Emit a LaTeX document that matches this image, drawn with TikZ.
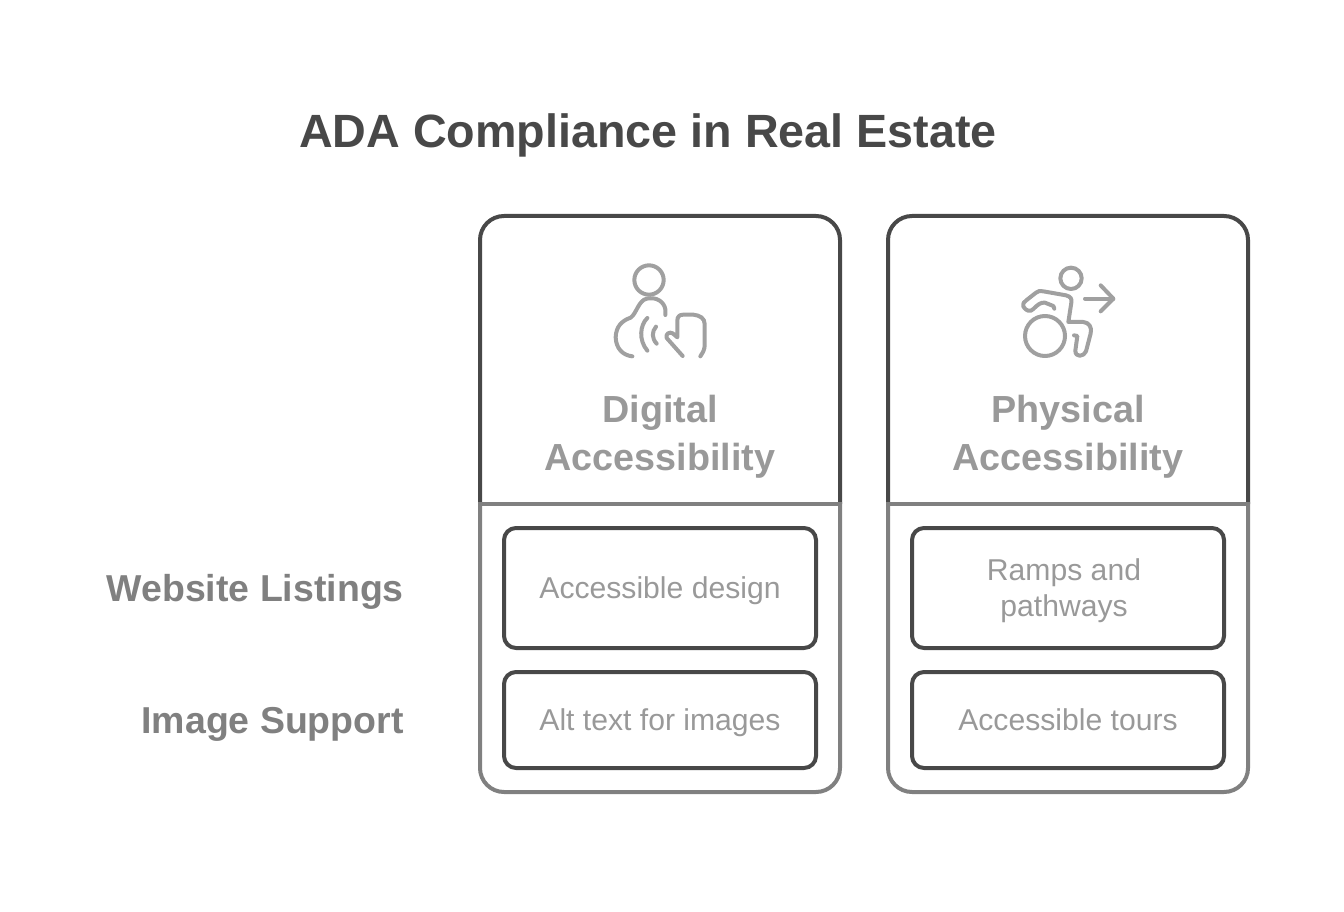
\documentclass[tikz,border=0pt]{standalone}
\usepackage{fontspec}
\setmainfont{Liberation Sans}
\definecolor{darkline}{HTML}{484848}
\definecolor{midline}{HTML}{808080}
\definecolor{softtext}{HTML}{999999}
\definecolor{iconline}{HTML}{A0A0A0}
\newcommand{\cardshape}[1]{%
  \draw[cardtop,rounded corners=18pt] (#1,504) -- (#1,216) -- (#1+360,216) -- (#1+360,504);
  \draw[cardbottom,rounded corners=18pt] (#1,502) -- (#1,792) -- (#1+360,792) -- (#1+360,502);
  \draw[cardbottom] (#1-2,504) -- (#1+362,504);
}
\tikzset{
  cardtop/.style={draw=darkline,line width=3pt},
  cardbottom/.style={draw=midline,line width=3pt},
  innerbox/.style={draw=darkline,line width=3pt,rounded corners=9pt,rectangle,minimum width=234pt,inner sep=0pt},
  icon/.style={draw=iconline,line width=3pt,line cap=round,line join=round},
  titletext/.style={anchor=base,inner sep=0pt,text=darkline,font=\bfseries\fontsize{35pt}{35pt}\selectfont},
  headtext/.style={anchor=base,inner sep=0pt,text=softtext,font=\bfseries\fontsize{28.3pt}{28.3pt}\selectfont},
  sidetext/.style={anchor=base east,inner sep=0pt,text=midline,font=\bfseries\fontsize{28.1pt}{28.1pt}\selectfont},
  boxtext/.style={anchor=base,inner sep=0pt,text=softtext,font=\fontsize{22.6pt}{22.6pt}\selectfont},
}
\begin{document}
\begin{tikzpicture}[x=0.75pt,y=-0.75pt]
\useasboundingbox (0,0) rectangle (1344,912);
\node[titletext] (title) at (648,148) {ADA Compliance in Real Estate};

\cardshape{480}
\cardshape{888}

\node[innerbox,minimum height=90pt] (boxA) at (660,588) {};
\node[innerbox,minimum height=72pt] (boxB) at (660,720) {};
\node[innerbox,minimum height=90pt] (boxC) at (1068,588) {};
\node[innerbox,minimum height=72pt] (boxD) at (1068,720) {};

\node[headtext] (h1a) at (660,422) {Digital};
\node[headtext] (h1b) at (660,470) {Accessibility};
\node[headtext] (h2a) at (1068,422) {Physical};
\node[headtext] (h2b) at (1068,470) {Accessibility};

\node[sidetext] (s1) at (404,601) {Website Listings};
\node[sidetext] (s2) at (404,733) {Image Support};

\node[boxtext] (t1) at (660,598) {Accessible design};
\node[boxtext] (t2) at (660,730) {Alt text for images};
\node[boxtext] (t3a) at (1064,580) {Ramps and};
\node[boxtext] (t3b) at (1064,616) {pathways};
\node[boxtext] (t4) at (1068,730) {Accessible tours};

% digital accessibility icon
\begin{scope}[shift={(590,250)},x=0.25pt,y=-0.25pt]
  \draw[icon] (177,90) circle[radius=44];
  \draw[icon] (226,195) -- (226,178) .. controls (222,155) and (200,140) .. (170,146) .. controls (145,152) and (140,190) .. (122,203) .. controls (95,212) and (78,230) .. (77,262) .. controls (78,295) and (98,316) .. (127,319);
  \draw[icon] (172,204) .. controls (150,225) and (145,270) .. (172,302);
  \draw[icon] (198,230) .. controls (185,245) and (185,265) .. (200,281);
  \draw[icon] (331,319) .. controls (340,305) and (344,298) .. (344,285) -- (344,222) .. controls (344,205) and (330,196) .. (310,194) -- (280,194) .. controls (268,194) and (262,200) .. (262,212) -- (262,262) -- (248,250) .. controls (238,244) and (226,252) .. (230,264) -- (278,318);
\end{scope}

% physical accessibility icon
\begin{scope}[shift={(1000,250)},x=0.25pt,y=-0.25pt]
  \draw[icon] (213,85) circle[radius=32];
  \draw[icon] (255,146) -- (340,146);
  \draw[icon] (302,106) -- (340,146) -- (302,184);
  \draw[icon] (135,258) circle[radius=60];
  \draw[icon] (163,176) -- (160,168) -- (135,158) .. controls (122,156) and (112,165) .. (100,177) .. controls (90,188) and (78,182) .. (70,170) .. controls (66,162) and (72,155) .. (80,150) -- (108,128) .. controls (114,122) and (122,122) .. (130,124) -- (198,136) .. controls (212,140) and (216,146) .. (214,158) -- (205,216) -- (250,216) .. controls (268,218) and (276,232) .. (272,250) -- (258,304) .. controls (252,320) and (226,324) .. (226,302) -- (232,258) -- (222,256);
\end{scope}
\end{tikzpicture}
\end{document}
